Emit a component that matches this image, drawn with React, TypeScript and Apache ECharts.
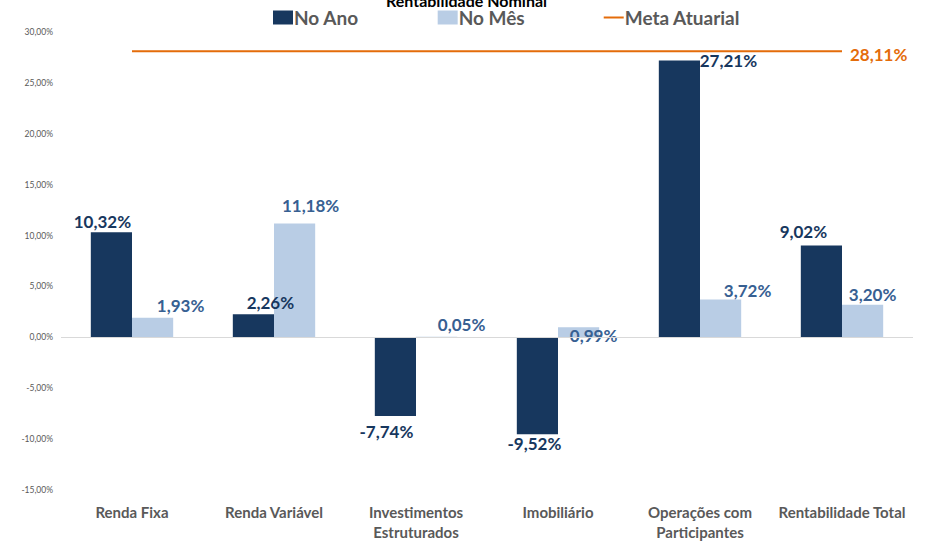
import React, { useEffect, useRef } from "react";
import * as echarts from "echarts";

const categories = [
  "Renda Fixa",
  "Renda Variável",
  "Investimentos\nEstruturados",
  "Imobiliário",
  "Operações com\nParticipantes",
  "Rentabilidade Total",
];
const noAno = [10.32, 2.26, -7.74, -9.52, 27.21, 9.02];
const noMes = [1.93, 11.18, 0.05, 0.99, 3.72, 3.2];
const metaAtuarial = [28.11, 28.11, 28.11, 28.11, 28.11, 28.11];

const anoOffsets: number[][] = [[-9, 3], [17, 2], [-9, 2], [-3, -4], [49, 14], [-18, -1]];
const mesOffsets: number[][] = [[28, 1], [16, -5], [25, 1], [15, 22], [27, 5], [10, 3]];

const fmt = (v: number) => v.toFixed(2).replace(".", ",") + "%";
const FONT = "Lato";

export default function App() {
  const ref = useRef<HTMLDivElement>(null);
  useEffect(() => {
    if (!ref.current) return;
    const chart = echarts.init(ref.current, null, { renderer: "svg" });
    chart.setOption({
      animation: false,
      textStyle: { fontFamily: FONT },
      title: {
        text: "Rentabilidade Nominal",
        left: "center",
        top: -13,
        textStyle: { fontSize: 16, fontWeight: "bold", color: "#000", fontFamily: FONT },
      },
      legend: {
        top: 3,
        left: 268,
        itemGap: 79,
        itemWidth: 20,
        itemHeight: 14,
        textStyle: { fontSize: 19, fontWeight: "bold", color: "#595959", fontFamily: FONT, padding: [0, 0, 0, -4] },
        data: [
          { name: "No Ano", icon: "rect" },
          { name: "No Mês", icon: "rect" },
          { name: "Meta Atuarial", icon: "path://M0,0 L20,0 L20,2 L0,2 Z", itemStyle: { color: "#e46c0a" } },
        ],
      },
      grid: { left: 61, right: 20, top: 32, bottom: 49, containLabel: false },
      xAxis: {
        type: "category",
        data: categories,
        axisLine: { show: false, onZero: false },
        axisTick: { show: false },
        axisLabel: {
          margin: 12,
          fontSize: 15,
          fontWeight: "bold",
          color: "#595959",
          lineHeight: 20,
          interval: 0,
          fontFamily: FONT,
          verticalAlign: "top",
        },
      },
      yAxis: {
        type: "value",
        min: -15,
        max: 30,
        interval: 5,
        axisLine: { show: false },
        axisTick: { show: false },
        splitLine: { show: false },
        axisLabel: {
          margin: 8,
          fontSize: 8.5,
          color: "#595959",
          fontFamily: FONT,
          formatter: (v: number) => v.toFixed(2).replace(".", ",") + "%",
        },
      },
      series: [
        {
          name: "No Ano",
          type: "bar",
          barGap: "0%",
          barCategoryGap: "42%",
          itemStyle: { color: "#17375e" },
          data: noAno.map((v, i) => ({
            value: v,
            label: {
              show: true,
              position: v < 0 ? "bottom" : "top",
              offset: anoOffsets[i],
              formatter: fmt(v),
              fontSize: 17,
              fontWeight: "bold",
              color: "#17375e",
              fontFamily: FONT,
            },
          })),
          markLine: {
            silent: true,
            symbol: "none",
            label: { show: false },
            lineStyle: { color: "#d9d9d9", width: 1, type: "solid" },
            data: [{ yAxis: 0 }],
          },
        },
        {
          name: "No Mês",
          type: "bar",
          itemStyle: { color: "#b9cde5" },
          data: noMes.map((v, i) => ({
            value: v,
            label: {
              show: true,
              position: v < 0 ? "bottom" : "top",
              offset: mesOffsets[i],
              formatter: fmt(v),
              fontSize: 17,
              fontWeight: "bold",
              color: "#376092",
              fontFamily: FONT,
            },
          })),
        },
        {
          name: "Meta Atuarial",
          type: "line",
          symbol: "none",
          lineStyle: { color: "#e46c0a", width: 2 },
          itemStyle: { color: "#e46c0a" },
          data: metaAtuarial,
          endLabel: {
            show: true,
            distance: 8,
            offset: [0, 3],
            formatter: (p: any) => fmt(p.value),
            fontSize: 17,
            fontWeight: "bold",
            color: "#e46c0a",
            fontFamily: FONT,
          },
        },
      ],
    });
    return () => chart.dispose();
  }, []);
  return (
    <div
      ref={ref}
      style={{ position: "fixed", left: 0, top: 0, width: 933, height: 542, background: "#fff" }}
    />
  );
}
